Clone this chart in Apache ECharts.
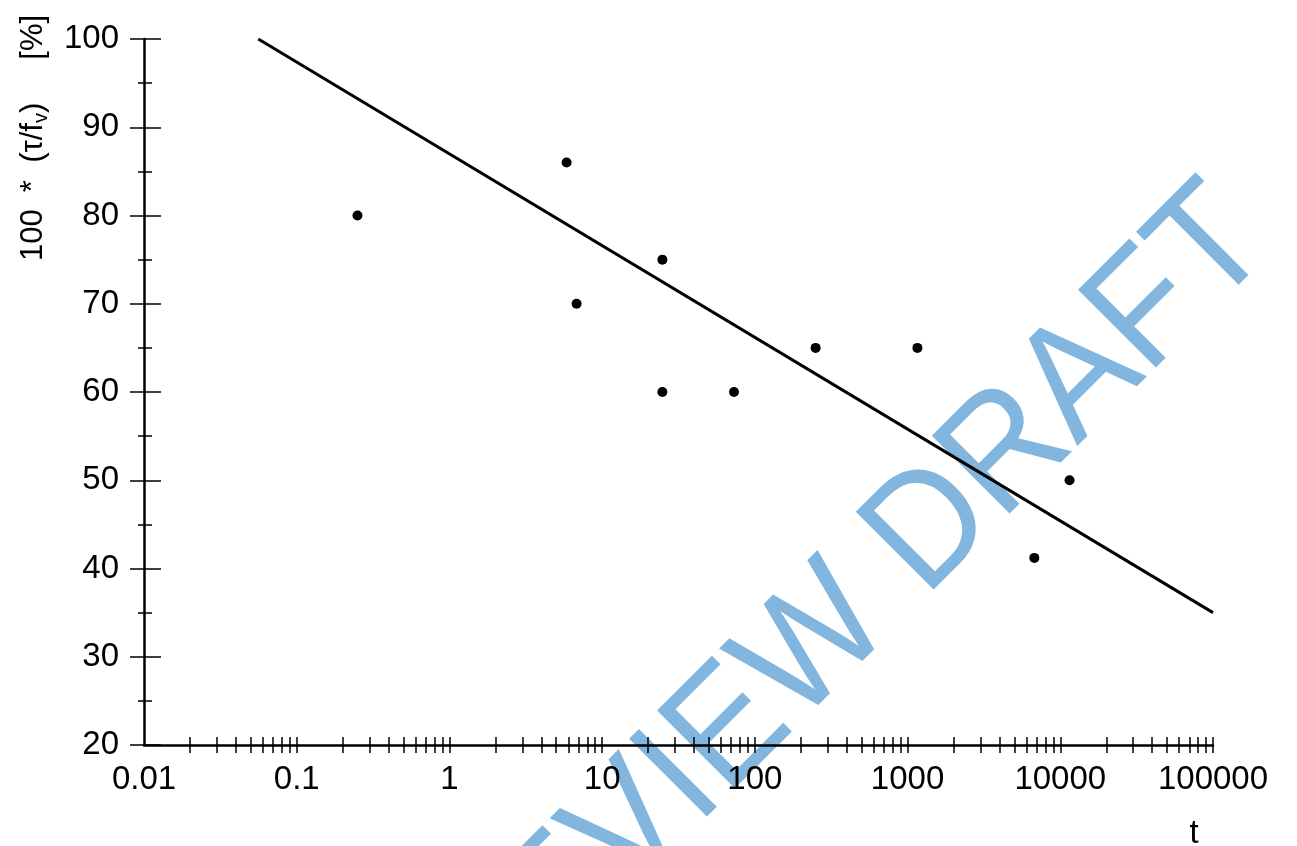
<!DOCTYPE html>
<html>
<head>
<meta charset="utf-8">
<script src="https://cdn.jsdelivr.net/npm/echarts@6/dist/echarts.min.js"></script>
<style>
html, body {margin:0; padding:0; background:#fff;}
#main {width:1297px; height:846px;}
</style>
</head>
<body>
<div id="main"></div>
<script>
// measured points
var tPts = [0.25, 5.85, 6.8, 24.8, 24.8, 73, 250, 1160, 6760, 11500];
var pctPts = [80, 86, 70, 75, 60, 60, 65, 65, 41.2, 50];
// fitted line end points
var fitT = [0.056, 100000];
var fitPct = [100, 35];
// axis ticks
var decades = [0.01, 0.1, 1, 10, 100, 1000, 10000, 100000];
var xMinor = [];
for (var d = 0; d < decades.length - 1; d++) {
	for (var k = 2; k <= 10; k++) {
		xMinor.push(Number((decades[d] * k).toPrecision(6)));
	}
}

var FONT = '"Liberation Sans", Arial, sans-serif';

var scatterData = [];
for (var i = 0; i < tPts.length; i++) {
	scatterData.push([tPts[i], pctPts[i]]);
}
var lineData = [];
for (var j = 0; j < fitT.length; j++) {
	lineData.push([fitT[j], fitPct[j]]);
}

// two identical grids: one carries the outside ticks + labels, the other the inside ticks
var gridBox = {left: 144, right: 84, top: 39, bottom: 101};

function xAxisBase(g, inside) {
	return {
		type: 'log',
		logBase: 10,
		min: 0.01,
		max: 100000,
		gridIndex: g,
		axisLine: {show: !inside, lineStyle: {color: '#000', width: 2.5}},
		axisTick: {
			show: true,
			inside: inside,
			length: 8,
			customValues: xMinor,
			lineStyle: {color: '#000', width: 1.5}
		},
		minorTick: {show: false},
		axisLabel: {
			show: !inside,
			customValues: decades,
			margin: 18,
			color: '#000',
			fontSize: 33,
			fontFamily: FONT,
			formatter: function (v) { return String(Number(v.toPrecision(6))); }
		},
		splitLine: {show: false}
	};
}

function yAxisBase(g, inside) {
	return {
		type: 'value',
		min: 20,
		max: 100,
		interval: 10,
		gridIndex: g,
		axisLine: {show: !inside, lineStyle: {color: '#000', width: 2.5}},
		axisTick: {show: true, inside: inside, length: inside ? 17 : 14, lineStyle: {color: '#000', width: 1.5}},
		minorTick: {show: true, splitNumber: 2, length: inside ? 8 : 6, lineStyle: {color: '#000', width: 1.5}},
		axisLabel: {show: !inside, margin: 25, color: '#000', fontSize: 33, fontFamily: FONT},
		splitLine: {show: false}
	};
}

var myChart = echarts.init(document.getElementById('main'));
var option = {
	backgroundColor: '#fff',
	animation: false,
	grid: [gridBox, gridBox],
	xAxis: [xAxisBase(0, false), xAxisBase(1, true)],
	yAxis: [yAxisBase(0, false), yAxisBase(1, true)],
	graphic: [
		{
			type: 'text',
			z: -10,
			x: 812,
			y: 649,
			rotation: 45 * Math.PI / 180,
			scaleX: 0.93,
			style: {
				text: 'PREVIEW DRAFT',
				fontSize: 160,
				fontFamily: FONT,
				fill: '#82b6de',
				align: 'center',
				verticalAlign: 'middle'
			}
		},
		{
			type: 'text',
			x: 33,
			y: 138,
			rotation: Math.PI / 2,
			style: {
				text: '{a|100  *  (τ/f}{s|v}{a|)     [%]}',
				align: 'center',
				verticalAlign: 'middle',
				fill: '#000',
				rich: {
					a: {fontSize: 31, fontFamily: FONT, fill: '#000', lineHeight: 36},
					s: {fontSize: 20, fontFamily: FONT, fill: '#000', lineHeight: 23, verticalAlign: 'bottom'}
				}
			}
		},
		{
			type: 'text',
			x: 1194,
			y: 834,
			style: {
				text: 't',
				fontSize: 33,
				fontFamily: FONT,
				fill: '#000',
				align: 'center',
				verticalAlign: 'middle'
			}
		}
	],
	series: [
		{
			type: 'line',
			xAxisIndex: 0,
			yAxisIndex: 0,
			data: lineData,
			showSymbol: false,
			symbol: 'none',
			lineStyle: {color: '#000', width: 3}
		},
		{
			type: 'scatter',
			xAxisIndex: 0,
			yAxisIndex: 0,
			data: scatterData,
			symbolSize: 10,
			itemStyle: {color: '#000', opacity: 1}
		}
	]
};
myChart.setOption(option);
</script>
</body>
</html>
